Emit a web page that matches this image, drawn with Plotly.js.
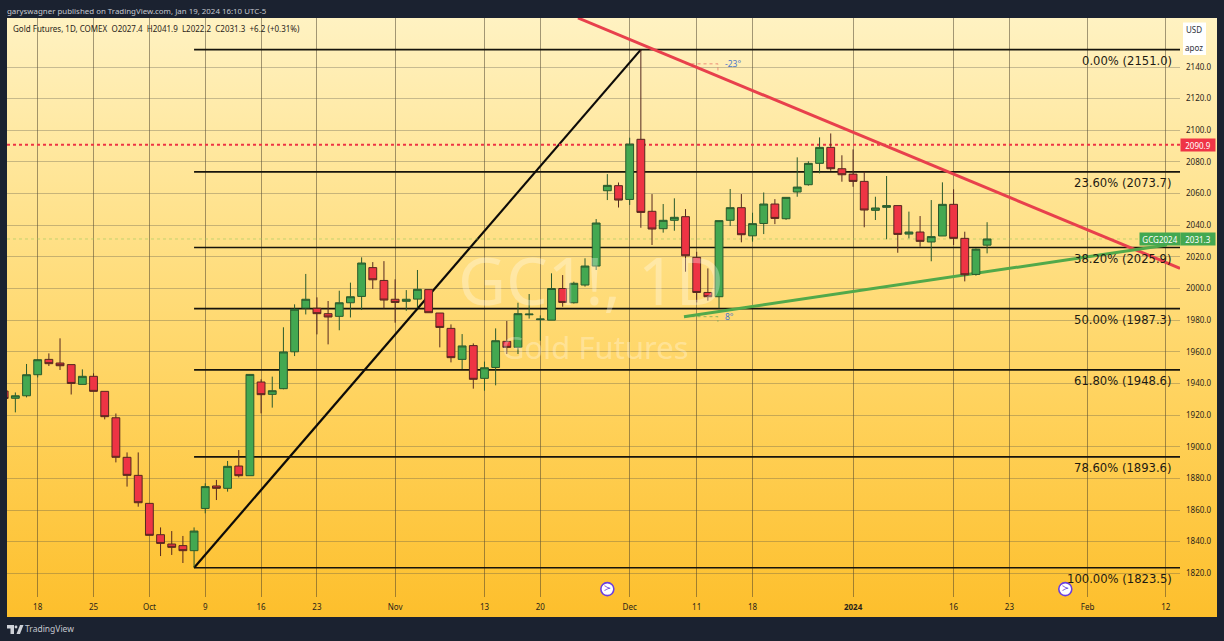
<!DOCTYPE html>
<html>
<head>
<meta charset="utf-8">
<script src="https://cdn.plot.ly/plotly-3.0.1.min.js"></script>
<style>
html,body{margin:0;padding:0;width:1224px;height:641px;overflow:hidden;background:#1b2230}
#pane{position:absolute;left:7px;top:18px;width:1210px;height:599px;background:linear-gradient(#fff2c2 0%,#ffe189 35%,#ffd25c 65%,#fdbf2c 100%)}
#chart{position:absolute;left:0;top:0;width:1224px;height:641px}
</style>
</head>
<body>
<div id="pane"></div>
<div id="chart"></div>
<script>
const firstBar = -3;
const opens  = [1935.2,1930.6,1932.2,1945.5,1955.2,1952.9,1951.9,1939.4,1944.5,1935,1918.3,1893.3,1881.9,1864.2,1844.4,1838.5,1837.5,1834.3,1861,1875.2,1873.7,1887.8,1881.7,1940.9,1933.1,1936.7,1960,1987.6,1987.5,1984.1,1982.4,1991,1995,2013.2,2005.1,1993.2,1991.9,1993.3,1999.3,1984.5,1974.8,1955.2,1963.9,1943.2,1950.1,1966.6,1962.8,1983.4,1980.3,1980,2000,1991,2002.2,2014.2,2061.8,2065,2056.3,2094.3,2048.8,2037.8,2043.1,2045.4,2019.7,1997.5,1994.8,2043.1,2051.1,2033.3,2041.1,2053.4,2044.1,2061,2065.6,2079.1,2089.2,2075.7,2072.3,2067.7,2049.4,2051.3,2052.4,2034.4,2035.7,2029.4,2033.2,2053.2,2031.7,2008.9,2027.4];
const highs  = [1936,1934.3,1952.3,1955.4,1959,1968.5,1951.9,1948.9,1946.4,1935,1921,1896.4,1896.4,1864.2,1849,1846.7,1843.6,1849,1876.9,1879,1891,1897.9,1945.7,1942.6,1944.3,1975.5,1990,2009.2,1994.4,1992.1,1998.6,2003.7,2019.7,2016.7,2017.3,2005.8,1999,2011.7,1999.3,1984.5,1977.3,1971.2,1965.3,1953.8,1974.8,1979.5,1991,1996.5,1983,2009.6,2008.5,2004.3,2019.1,2043.9,2072.3,2067,2095.3,2151,2059.7,2053.4,2057,2050.2,2023.2,2012.7,2042.9,2062.9,2059.7,2047.9,2060.7,2056.5,2057.6,2082.9,2080.4,2095.5,2098,2084.2,2087.9,2073.8,2058,2071.1,2052.4,2048.6,2045.8,2055.9,2067.1,2062.7,2035.9,2025.3,2041.9];
const lows   = [1928,1921.7,1931.2,1943.8,1951,1948.5,1933,1939.4,1935,1917.3,1890.1,1874.8,1862.1,1844,1830.9,1831.6,1826.5,1823.8,1857.9,1866.3,1871.6,1880.6,1881.7,1921.1,1924.7,1936.3,1957.3,1983.6,1971,1964.7,1973.6,1981.7,1986.4,1999.7,1987.4,1978.4,1985.9,1988,1984.7,1962.8,1953.3,1949.1,1936.7,1935.4,1938.8,1958.6,1958.6,1981,1967,1980,1988.5,1990.5,2001.2,2011.7,2055.9,2051.2,2052.8,2038.4,2027.5,2035.3,2036.5,2010.6,1991.2,1992.3,1987.5,2039.5,2029.2,2029.6,2034.4,2040.7,2043.4,2058,2065,2072.8,2074.4,2067.5,2064.3,2038.7,2043.3,2031.1,2022.6,2031.7,2026.4,2017.2,2033.2,2027.5,2004.5,2008.1,2022.2];
const closes = [1930.5,1932.2,1945.5,1955,1952.5,1951.2,1940,1944.5,1935,1919,1893.3,1881.9,1864.6,1844,1838.9,1836.4,1834.3,1846.7,1874.8,1873.7,1887.6,1881.7,1945.7,1932.9,1935.4,1959.9,1986.9,1993.2,1984.1,1982,1991,1994.8,2016.1,2005.5,1992.7,1991.2,1993.2,1999.5,1984.7,1975.4,1956.3,1963.7,1942.6,1949.9,1967,1962.8,1984.1,1983.8,1980.7,2000,1991.2,2003.3,2014.2,2041.4,2065.2,2055.9,2091.3,2048.1,2037.6,2043.1,2045,2020.7,1997.5,1994.8,2042.9,2051.1,2034,2041,2053.4,2044.3,2057.6,2064.1,2079.1,2089.2,2075.7,2071.9,2067.7,2049.6,2050.9,2052.4,2034.2,2035.7,2029.8,2032.8,2053.2,2031.7,2008.7,2024.9,2031.3];

const xTickBars   = [0,5,10,15,20,25,32,40,45,53,59,64,73,82,87,94,101];
const xTickLabels = ['18','25','Oct','9','16','23','Nov','13','20','Dec','11','18','<b>2024</b>','16','23','Feb','12'];
const yTicks = [1820,1840,1860,1880,1900,1920,1940,1960,1980,2000,2020,2040,2060,2080,2100,2120,2140];

const fibPercents = ['0.00%','23.60%','38.20%','50.00%','61.80%','78.60%','100.00%'];
const fibPrices   = [2151.0,2073.7,2025.9,1987.3,1948.6,1893.6,1823.5];
const fibStartBar = 14;
const fibEndBar   = 102.27;

const swingBars   = [14,54];
const swingPrices = [1823.5,2151];
const redTrendBars   = [48.37,102.27];
const redTrendPrices = [2171,2012.8];
const greenTrendBars   = [57.86,101.1];
const greenTrendPrices = [1982.2,2027.5];
const angleRedBars   = [58,60.9,60.9];
const angleRedPrices = [2142,2142,2136];
const angleGreenBars   = [58,60.9,60.9];
const angleGreenPrices = [1982.2,1982.2,1979];

const lastPrice = 2031.3;
const openPrice = 2090.9;
const eventBars = [51,92];
const eventLevel = [1810,1810];

const xRange = [-2.748,102.27];
const yRange = [1805.02,2170.97];
const uiFont = 'Noto Sans, DejaVu Sans, sans-serif';
const darkText = '#2a2419';

const barX = opens.map((_, i) => i + firstBar);

const traces = [{
  type:'candlestick', x:barX, open:opens, high:highs, low:lows, close:closes,
  increasing:{line:{color:'#2a5a2c',width:1},fillcolor:'#43a851'},
  decreasing:{line:{color:'#55281f',width:1},fillcolor:'#ee3444'},
  whiskerwidth:0, hoverinfo:'skip', showlegend:false
},{
  type:'scatter', mode:'markers+text', x:eventBars, y:eventLevel, text:['≻','≻'],
  textposition:'middle center', textfont:{size:9,color:'#5b2fd6',family:'DejaVu Sans'},
  marker:{size:13,color:'#ffffff',line:{color:'#6a3fe0',width:1.6}},
  hoverinfo:'skip', showlegend:false, cliponaxis:false
}];

function px(x){return (x-7)/1173;}
function py(y){return (597-y)/579;}

const shapes = [];
function seg(xs, ys, color, width, dash){
  shapes.push({type:'path',layer:'between',xref:'x',yref:'y',
    path:xs.map((x,i)=>(i?'L':'M')+x+','+ys[i]).join(' '),
    line:{color:color,width:width,dash:dash||'solid'}});
}
fibPrices.forEach(p => seg([fibStartBar,fibEndBar],[p,p],'#17140c',1.6));
seg(swingBars,swingPrices,'#0d0b08',2.2);
seg(xRange,[openPrice,openPrice],'#ee3444',2,'dot');
seg(xRange,[lastPrice,lastPrice],'rgba(150,200,90,0.55)',1,'dot');
seg(angleRedBars,angleRedPrices,'rgba(225,80,80,0.6)',1,'dot');
seg(angleGreenBars,angleGreenPrices,'rgba(70,160,80,0.6)',1,'dot');
seg(redTrendBars,redTrendPrices,'#e8404c',3);
seg(greenTrendBars,greenTrendPrices,'#52a94a',3);
shapes.push({type:'rect',layer:'above',xref:'paper',yref:'paper',
  x0:px(1183),x1:px(1206),y0:py(55),y1:py(22.5),fillcolor:'#ffffff',line:{width:0}});
const logoPaths = [
  [[7,625],[14,625],[14,634],[10.5,634],[10.5,628.5],[7,628.5]],
  [[16.5,634],[20,625],[23.5,625],[20,634]]
];
logoPaths.forEach(p => shapes.push({type:'path',layer:'above',xref:'paper',yref:'paper',
  path:p.map((q,i)=>(i?'L':'M')+px(q[0])+','+py(q[1])).join(' ')+' Z',
  fillcolor:'#cfd2d8',line:{width:0}}));
shapes.push({type:'circle',layer:'above',xref:'paper',yref:'paper',
  x0:px(14.6),x1:px(17.4),y0:py(628.4),y1:py(625.6),fillcolor:'#cfd2d8',line:{width:0}});

const annotations = [];
function note(o){annotations.push(Object.assign({showarrow:false,borderpad:0},o));}
note({xref:'paper',yref:'paper',x:px(6),y:py(11),xanchor:'left',yanchor:'middle',
  text:'garyswagner published on TradingView.com, Jan 19, 2024 16:10 UTC-5',
  font:{family:uiFont,size:7.9,color:'#c4c7cf'}});
note({xref:'paper',yref:'paper',x:px(12),y:py(29),xanchor:'left',yanchor:'middle',
  text:'Gold Futures, 1D, COMEX  O2027.4  H2041.9  L2022.2  C2031.3  +6.2 (+0.31%)',
  font:{family:uiFont,size:8,color:darkText}});
note({xref:'paper',yref:'paper',x:px(24),y:py(629),xanchor:'left',yanchor:'middle',
  text:'TradingView',font:{family:uiFont,size:8.5,color:'#c4c7cf'}});
note({xref:'paper',yref:'paper',x:px(1194.5),y:py(30),xanchor:'center',yanchor:'middle',
  text:'USD',font:{family:uiFont,size:8,color:'#30333c'}});
note({xref:'paper',yref:'paper',x:px(1194.5),y:py(47),xanchor:'center',yanchor:'middle',
  text:'apoz',font:{family:uiFont,size:8,color:'#30333c'}});
note({xref:'paper',yref:'paper',x:px(591),y:py(279),xanchor:'center',yanchor:'middle',
  text:'GC1!, 1D',font:{family:'Noto Sans, sans-serif',size:66,color:'rgba(255,255,255,0.30)'}});
note({xref:'paper',yref:'paper',x:px(595),y:py(347),xanchor:'center',yanchor:'middle',
  text:'Gold Futures',font:{family:'Noto Sans, sans-serif',size:31,color:'rgba(255,255,255,0.30)'}});
fibPercents.forEach((pct,i) => note({
  xref:'paper',yref:'y',x:px(1173),y:fibPrices[i],yshift:-11,xanchor:'right',yanchor:'middle',
  text:pct+' ('+fibPrices[i].toFixed(1)+')',
  font:{family:'DejaVu Sans',size:11.6,color:'#1d1a12'}}));
note({xref:'paper',yref:'y',x:px(733),y:angleRedPrices[0],xanchor:'center',yanchor:'middle',
  text:'-23°',font:{family:uiFont,size:8.5,color:'#4a77c9'}});
note({xref:'paper',yref:'y',x:px(729),y:angleGreenPrices[0],xanchor:'center',yanchor:'middle',
  text:'8°',font:{family:uiFont,size:8.5,color:'#4a77c9'}});
function tag(x,w,price,text,color){
  note({xref:'paper',yref:'y',x:px(x),y:price,xanchor:'left',yanchor:'middle',width:w,height:12,
    align:'center',valign:'middle',bgcolor:color,text:text,
    font:{family:uiFont,size:8,color:'#ffffff'}});
}
tag(1180,34,openPrice,openPrice.toFixed(1),'#ef3446');
tag(1139,40,lastPrice,'GCG2024','#43a851');
tag(1180,34,lastPrice,lastPrice.toFixed(1),'#43a851');

const layout = {
  width:1224,height:641,
  margin:{l:7,r:44,t:18,b:44,pad:0},
  paper_bgcolor:'rgba(0,0,0,0)',plot_bgcolor:'rgba(0,0,0,0)',
  showlegend:false,
  boxgap:0,
  xaxis:{type:'linear',range:xRange,tickmode:'array',tickvals:xTickBars,ticktext:xTickLabels,
    showgrid:true,gridcolor:'rgba(70,60,40,0.5)',gridwidth:1,zeroline:false,showline:false,
    ticks:'',tickfont:{family:uiFont,size:8,color:darkText},ticklabelstandoff:4,
    rangeslider:{visible:false},fixedrange:true},
  yaxis:{type:'linear',range:yRange,side:'right',tickmode:'array',tickvals:yTicks,tickformat:'.1f',
    showgrid:true,gridcolor:'rgba(80,80,70,0.32)',gridwidth:1,zeroline:false,showline:false,
    ticks:'',tickfont:{family:uiFont,size:8,color:darkText},ticklabelstandoff:5,fixedrange:true},
  shapes:shapes,annotations:annotations
};
Plotly.newPlot('chart',traces,layout,{displayModeBar:false,staticPlot:true});
</script>
</body>
</html>
